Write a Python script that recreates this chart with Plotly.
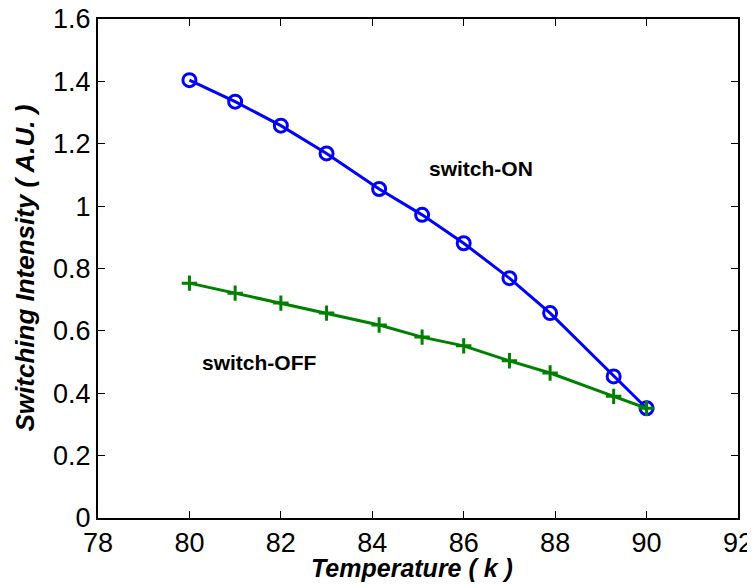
import plotly.graph_objects as go

temp_on = [80, 81, 82, 83, 84.15, 85.09, 86, 87, 87.89, 89.28, 90]
on_vals = [1.404, 1.335, 1.258, 1.169, 1.055, 0.972, 0.881, 0.769, 0.657, 0.454, 0.352]
temp_off = [80, 81, 82, 83, 84.15, 85.09, 86, 87, 87.89, 89.28, 90]
off_vals = [0.753, 0.721, 0.689, 0.657, 0.619, 0.580, 0.552, 0.504, 0.465, 0.390, 0.352]

x_ticks = [78, 80, 82, 84, 86, 88, 90, 92]
y_ticks = [0, 0.2, 0.4, 0.6, 0.8, 1.0, 1.2, 1.4, 1.6]
y_tick_text = ["0", "0.2", "0.4", "0.6", "0.8", "1", "1.2", "1.4", "1.6"]

font = "Liberation Sans, Arial, sans-serif"

fig = go.Figure()
fig.add_trace(go.Scatter(
    x=temp_on, y=on_vals, mode="lines+markers",
    line=dict(color="#0000ff", width=3),
    marker=dict(symbol="circle-open", size=13, color="#0000ff", line=dict(width=3)),
    showlegend=False, cliponaxis=False))
fig.add_trace(go.Scatter(
    x=temp_off, y=off_vals, mode="lines+markers",
    line=dict(color="#008000", width=3),
    marker=dict(symbol="cross-thin-open", size=11, color="#008000",
                line=dict(width=3, color="#008000")),
    showlegend=False, cliponaxis=False))

fig.add_annotation(x=86.38, y=1.122, text="<b>switch-ON</b>", showarrow=False,
                   font=dict(family=font, size=21, color="black"))
fig.add_annotation(x=81.54, y=0.50, text="<b>switch-OFF</b>", showarrow=False,
                   font=dict(family=font, size=21, color="black"))

fig.add_annotation(xref="paper", yref="paper", x=0.4906, y=-0.1,
                   xanchor="center", yanchor="middle", showarrow=False,
                   text="<b><i>Temperature ( k )</i></b>",
                   font=dict(family=font, size=25, color="black"))
fig.add_annotation(xref="paper", yref="paper", x=-0.1156, y=0.5,
                   xanchor="center", yanchor="middle", showarrow=False, textangle=-90,
                   text="<b><i>Switching Intensity ( A.U. )</i></b>",
                   font=dict(family=font, size=26, color="black"))

axis_common = dict(showgrid=False, zeroline=False, showline=True, linecolor="black",
                   linewidth=2, mirror="ticks", ticks="inside", ticklen=7,
                   tickwidth=1.3, tickcolor="black", automargin=False,
                   ticklabeloverflow="allow",
                   tickfont=dict(family=font, size=27, color="black"))

fig.update_xaxes(range=[78, 92], tickvals=x_ticks, **axis_common)
fig.update_yaxes(range=[0, 1.6], tickvals=y_ticks, ticktext=y_tick_text, **axis_common)

fig.update_layout(width=747, height=578, paper_bgcolor="white", plot_bgcolor="white",
                  margin=dict(l=90, r=17, t=11, b=68))

fig.write_html("out.html")
